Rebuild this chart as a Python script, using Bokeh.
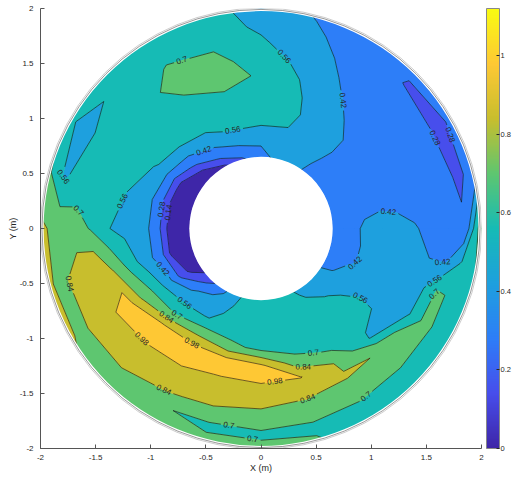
import numpy as np
import contourpy
from bokeh.plotting import figure
from bokeh.models import (Range1d, FixedTicker, CustomJSTickFormatter,
                          LinearColorMapper, ColorBar, ColumnDataSource)
from bokeh.embed import file_html
from bokeh.resources import INLINE
from bokeh.core.properties import value

# ---------------- data ----------------
theta_deg = [0, 15, 30, 45, 60, 75, 90, 105, 120, 135, 150, 165, 180, 195, 210,
             225, 240, 255, 270, 285, 300, 315, 330, 340, 350]
radii = [0.65, 0.75, 0.85, 0.95, 1.10, 1.25, 1.40, 1.55, 1.70, 1.85, 2.00]

z000 = [0.36, 0.38, 0.40, 0.44, 0.47, 0.46, 0.43, 0.38, 0.36, 0.30, 0.80]
z015 = [0.35, 0.36, 0.37, 0.38, 0.38, 0.37, 0.36, 0.34, 0.32, 0.26, 0.32]
z030 = [0.36, 0.36, 0.37, 0.37, 0.37, 0.36, 0.35, 0.34, 0.33, 0.24, 0.31]
z045 = [0.37, 0.38, 0.40, 0.41, 0.41, 0.38, 0.36, 0.35, 0.33, 0.275, 0.29]
z060 = [0.44, 0.46, 0.47, 0.48, 0.48, 0.46, 0.43, 0.40, 0.38, 0.36, 0.36]
z075 = [0.47, 0.50, 0.53, 0.56, 0.59, 0.58, 0.555, 0.51, 0.47, 0.44, 0.41]
z090 = [0.36, 0.42, 0.49, 0.57, 0.63, 0.68, 0.69, 0.65, 0.58, 0.53, 0.50]
z105 = [0.26, 0.39, 0.49, 0.58, 0.64, 0.69, 0.73, 0.73, 0.69, 0.64, 0.62]
z120 = [0.11, 0.31, 0.42, 0.53, 0.61, 0.66, 0.70, 0.73, 0.705, 0.66, 0.63]
z135 = [0.05, 0.14, 0.33, 0.44, 0.62, 0.63, 0.65, 0.66, 0.65, 0.60, 0.62]
z150 = [0.03, 0.07, 0.15, 0.38, 0.55, 0.61, 0.63, 0.62, 0.58, 0.50, 0.60]
z165 = [0.02, 0.05, 0.12, 0.33, 0.52, 0.555, 0.61, 0.63, 0.60, 0.545, 0.74]
z180 = [0.02, 0.05, 0.13, 0.36, 0.49, 0.52, 0.57, 0.69, 0.78, 0.81, 0.86]
z195 = [0.03, 0.05, 0.12, 0.36, 0.49, 0.66, 0.83, 0.978, 0.90, 0.82, 0.85]
z210 = [0.06, 0.10, 0.25, 0.44, 0.66, 0.82, 1.06, 0.96, 0.90, 0.82, 0.85]
z225 = [0.20, 0.36, 0.47, 0.54, 0.70, 1.00, 1.03, 0.93, 0.87, 0.82, 0.80]
z240 = [0.40, 0.46, 0.51, 0.565, 0.80, 1.03, 1.00, 0.93, 0.85, 0.71, 0.78]
z255 = [0.57, 0.60, 0.63, 0.66, 0.72, 1.06, 0.975, 0.92, 0.82, 0.675, 0.73]
z270 = [0.60, 0.62, 0.64, 0.66, 0.68, 1.01, 0.985, 0.90, 0.80, 0.69, 0.71]
z285 = [0.60, 0.61, 0.62, 0.64, 0.64, 0.75, 0.985, 0.87, 0.79, 0.68, 0.71]
z300 = [0.55, 0.57, 0.59, 0.61, 0.63, 0.67, 0.82, 0.85, 0.78, 0.67, 0.62]
z315 = [0.49, 0.52, 0.555, 0.59, 0.60, 0.575, 0.55, 0.835, 0.76, 0.66, 0.62]
z330 = [0.40, 0.415, 0.46, 0.50, 0.54, 0.55, 0.53, 0.55, 0.73, 0.68, 0.62]
z340 = [0.38, 0.39, 0.40, 0.43, 0.48, 0.50, 0.50, 0.53, 0.72, 0.68, 0.62]
z350 = [0.37, 0.38, 0.40, 0.43, 0.47, 0.48, 0.46, 0.42, 0.40, 0.58, 0.72]

levels = [0.0, 0.14, 0.28, 0.42, 0.56, 0.70, 0.84, 0.98, 1.12]
cbar_ticks = [0, 0.2, 0.4, 0.6, 0.8, 1.0]
axis_ticks = [-2, -1.5, -1, -0.5, 0, 0.5, 1, 1.5, 2]
x_label = "X (m)"
y_label = "Y (m)"
r_hole = 0.65
r_edge = 1.972

# ---------------- colours (parula-like) ----------------
anchor_pos = [0.0, 0.125, 0.25, 0.375, 0.5, 0.625, 0.75, 0.875, 1.0]
anchor_rgb = [(62, 38, 168), (71, 78, 236), (45, 126, 248), (30, 160, 222),
              (22, 187, 181), (94, 198, 112), (200, 190, 45), (254, 200, 52),
              (249, 251, 18)]


def hexc(rgb):
    return "#%02x%02x%02x" % tuple(int(round(c)) for c in rgb)


def cmap(f):
    r = np.interp(f, anchor_pos, [a[0] for a in anchor_rgb])
    g = np.interp(f, anchor_pos, [a[1] for a in anchor_rgb])
    b = np.interp(f, anchor_pos, [a[2] for a in anchor_rgb])
    return hexc((r, g, b))


palette = [cmap(i / 255) for i in range(256)]
fill_colors = [cmap(lv / levels[-1]) for lv in levels[:-1]]

# ---------------- grid ----------------
rows = [z000, z015, z030, z045, z060, z075, z090, z105, z120, z135, z150, z165,
        z180, z195, z210, z225, z240, z255, z270, z285, z300, z315, z330, z340, z350]
Z = np.array(rows + [rows[0]], dtype=float)
T = np.deg2rad(np.array(theta_deg + [360], dtype=float))
RR, TT = np.meshgrid(np.array(radii), T)
X = RR * np.cos(TT)
Y = RR * np.sin(TT)

p = figure(width=513, height=477, x_range=Range1d(-2, 2), y_range=Range1d(-2, 2),
           output_backend="svg", toolbar_location=None,
           min_border_left=40, min_border_right=32, min_border_top=8, min_border_bottom=29)
p.outline_line_color = None
p.grid.visible = False
p.background_fill_color = "white"

gen = contourpy.contour_generator(X, Y, Z, fill_type=contourpy.FillType.OuterOffset,
                                  line_type=contourpy.LineType.Separate)

for k in range(len(levels) - 1):
    pts_list, offs_list = gen.filled(levels[k], levels[k + 1])
    polys_x, polys_y = [], []
    for pts, offs in zip(pts_list, offs_list):
        rx, ry = [], []
        for i in range(len(offs) - 1):
            ring = pts[offs[i]:offs[i + 1]]
            rx.append(ring[:, 0].tolist())
            ry.append(ring[:, 1].tolist())
        polys_x.append(rx)
        polys_y.append(ry)
    if polys_x:
        p.multi_polygons(xs=[polys_x], ys=[polys_y], fill_color=fill_colors[k],
                         line_color=fill_colors[k], line_width=0.7)

# ---------------- contour lines with inline labels ----------------
SX, SY = 441 / 4, 440 / 4
spacing = 135
line_xs, line_ys = [], []
lab_x, lab_y, lab_t, lab_a = [], [], [], []
for lev in levels[1:-1]:
    txt = f"{lev:g}"
    w = 8 * (0.556 * (len(txt) - 1) + 0.278)
    hw = w / 2 + 2.5
    for seg in gen.lines(lev):
        seg = np.asarray(seg, dtype=float)
        if len(seg) < 2:
            continue
        d = np.hypot(np.diff(seg[:, 0]) * SX, np.diff(seg[:, 1]) * SY)
        seg = seg[np.concatenate([[True], d > 1e-9])]
        if len(seg) < 2:
            continue
        d = np.hypot(np.diff(seg[:, 0]) * SX, np.diff(seg[:, 1]) * SY)
        s = np.concatenate([[0.0], np.cumsum(d)])
        L = s[-1]
        cand = []
        if L > 2 * hw + 8:
            n = max(1, int(L // spacing))
            for kk in range(n):
                sk = (kk + 0.5) * L / n
                xx = np.interp(sk, s, seg[:, 0])
                yy = np.interp(sk, s, seg[:, 1])
                rr = np.hypot(xx, yy)
                if 0.72 < rr < 1.92:
                    cand.append(sk)
        start = 0.0
        intervals = []
        for sk in cand:
            if sk - hw > start:
                intervals.append((start, sk - hw))
            start = sk + hw
        if start < L:
            intervals.append((start, L))
        for a, b in intervals:
            ss = np.concatenate([[a], s[(s > a) & (s < b)], [b]])
            line_xs.append(np.interp(ss, s, seg[:, 0]).tolist())
            line_ys.append(np.interp(ss, s, seg[:, 1]).tolist())
        for sk in cand:
            x0 = np.interp(sk - hw, s, seg[:, 0]); y0 = np.interp(sk - hw, s, seg[:, 1])
            x1 = np.interp(sk + hw, s, seg[:, 0]); y1 = np.interp(sk + hw, s, seg[:, 1])
            ang = np.arctan2((y1 - y0) * SY, (x1 - x0) * SX)
            if ang > np.pi / 2:
                ang -= np.pi
            if ang < -np.pi / 2:
                ang += np.pi
            lab_x.append(float(np.interp(sk, s, seg[:, 0])))
            lab_y.append(float(np.interp(sk, s, seg[:, 1])))
            lab_t.append(txt)
            lab_a.append(float(ang))

p.multi_line(xs=line_xs, ys=line_ys, line_color="#111111", line_width=0.6)

# masks: outside the domain and the central hole
p.annulus(x=[0], y=[0], inner_radius=r_edge, outer_radius=3.2,
          fill_color="white", line_color=None)
p.circle(x=[0], y=[0], radius=r_hole, fill_color="white", line_color=None)
p.circle(x=[0], y=[0], radius=1.987, fill_color=None, line_color="#333333", line_width=0.5)
p.circle(x=[0], y=[0], radius=2.0, fill_color=None, line_color="#9a9a9a", line_width=0.5)

lab_src = ColumnDataSource(dict(x=lab_x, y=lab_y, text=lab_t, angle=lab_a))
p.text(x="x", y="y", text="text", angle="angle", source=lab_src,
       text_font=value("Liberation Sans"), text_font_size="8px", text_color="#262626",
       text_align="center", text_baseline="middle")

# ---------------- axes ----------------
fmt = CustomJSTickFormatter(code="return String(Number(tick.toFixed(2)));")
for ax, lab in ((p.xaxis[0], x_label), (p.yaxis[0], y_label)):
    ax.ticker = FixedTicker(ticks=axis_ticks)
    ax.formatter = fmt
    ax.major_tick_in = 4
    ax.major_tick_out = 0
    ax.minor_tick_line_color = None
    ax.axis_line_color = "#555555"
    ax.major_tick_line_color = "#555555"
    ax.major_label_text_color = "#262626"
    ax.major_label_text_font = "Liberation Sans"
    ax.major_label_text_font_size = "8px"
    ax.axis_label = lab
    ax.axis_label_text_font = "Liberation Sans"
    ax.axis_label_text_font_size = "9px"
    ax.axis_label_text_font_style = "normal"
    ax.axis_label_text_color = "#262626"
    ax.axis_label_standoff = 0
p.xaxis.major_label_standoff = 6
p.yaxis.major_label_standoff = 7
p.yaxis.axis_label_standoff = -1

mapper = LinearColorMapper(palette=palette, low=levels[0], high=levels[-1])
cb = ColorBar(color_mapper=mapper, ticker=FixedTicker(ticks=cbar_ticks),
              formatter=CustomJSTickFormatter(code="return String(Number(tick.toFixed(2)));"),
              location=(446, 0), width=13, height=440, padding=0, margin=0,
              orientation="vertical",
              major_tick_in=3, major_tick_out=0, major_tick_line_color="#262626",
              minor_tick_line_color=None,
              bar_line_color="#888888", border_line_color=None, background_fill_alpha=0,
              label_standoff=1, major_label_text_font_size="7.5px",
              major_label_text_color="#262626", major_label_text_font="Liberation Sans")
p.add_layout(cb, "center")

open("out.html", "w").write(file_html(p, INLINE))
